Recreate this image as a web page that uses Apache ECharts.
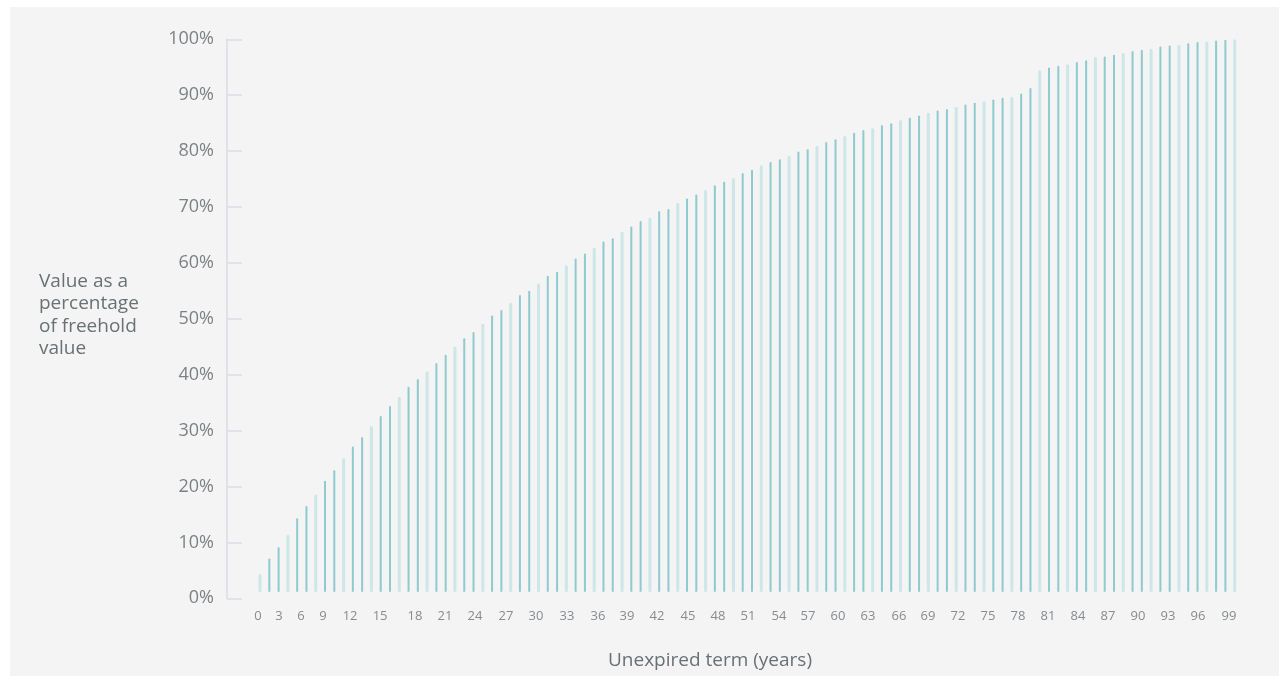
<!DOCTYPE html>
<html><head><meta charset="utf-8">
<script src="https://cdn.jsdelivr.net/npm/echarts@6/dist/echarts.min.js"></script>
<style>
html,body{margin:0;padding:0;background:#ffffff;width:1279px;height:676px;overflow:hidden}
#chart{position:absolute;left:10px;top:7px;width:1269px;height:669px;background:#f4f4f4}
</style></head><body><div id="chart"></div>
<script>
// Bar values (% of freehold value), one per bar, left to right
const values = [
  3.2, 6.0, 8.1, 10.3, 13.3, 15.5, 17.6, 20.1, 22.0, 24.2,
  26.3, 28.0, 30.0, 31.8, 33.6, 35.3, 37.1, 38.5, 39.9, 41.4,
  42.9, 44.4, 45.9, 47.0, 48.5, 50.0, 51.0, 52.3, 53.7, 54.5,
  55.8, 57.2, 57.9, 59.1, 60.3, 61.2, 62.3, 63.4, 64.0, 65.2,
  66.1, 67.1, 67.7, 68.9, 69.3, 70.4, 71.2, 71.9, 72.7, 73.6,
  74.2, 74.9, 75.8, 76.4, 77.2, 77.8, 78.3, 78.9, 79.7, 80.1,
  80.7, 81.4, 81.9, 82.5, 83.1, 83.6, 83.9, 84.5, 84.8, 85.4,
  85.8, 86.2, 86.7, 87.1, 87.4, 87.8, 88.2, 88.5, 88.8, 89.1,
  89.4, 89.6, 90.2, 91.2, 94.4, 94.9, 95.2, 95.5, 95.9, 96.2,
  96.8, 96.9, 97.2, 97.5, 97.9, 98.1, 98.3, 98.7, 98.9, 99.0,
  99.3, 99.5, 99.6, 99.8, 99.9, 100
];
const categories = values.map((v, i) => String(i));
// X tick labels and where they sit along the bar row (in bar-index units)
const tickLabels = ['0','3','6','9','12','15','18','21','24','27','30','33','36','39','42','45','48',
  '51','54','57','60','63','66','69','72','75','78','81','84','87','90','93','96','99'];
const tickPositions = [-0.22, 2.05, 4.42, 6.79, 9.70, 12.93, 16.70, 19.93, 23.16, 26.50, 29.73, 33.07,
  36.41, 39.54, 42.77, 46.11, 49.34, 52.57, 55.91, 59.03, 62.27, 65.50, 68.84, 71.96, 75.19, 78.42,
  81.65, 84.89, 88.12, 91.35, 94.58, 97.81, 101.05, 104.39];
const yTitle = 'Value as a\npercentage\nof freehold\nvalue';
const xTitle = 'Unexpired term (years)';

const lightData = values.map((v, i) => i % 3 === 0 ? v : '-');
const darkData = values.map((v, i) => i % 3 === 0 ? '-' : v);
const FONT = '"Open Sans", sans-serif';
const axisColor = '#dddae6';

const chart = echarts.init(document.getElementById('chart'), null, {renderer: 'canvas'});
chart.setOption({
  animation: false,
  backgroundColor: '#f4f4f4',
  title: [
    {text: yTitle, left: 29, top: 263.5, padding: 0,
     textStyle: {fontFamily: FONT, fontSize: 19, lineHeight: 22.3, fontWeight: 'normal', color: '#687175'}},
    {text: xTitle, left: 700, top: 641.7, padding: 0, textAlign: 'center',
     textStyle: {fontFamily: FONT, fontSize: 19, lineHeight: 24, fontWeight: 'normal', color: '#687175'}}
  ],
  grid: {left: 245.4, right: 39.7, top: 32.3, bottom: 77.7},
  xAxis: [
    {type: 'category', data: categories, show: false},
    {type: 'category', data: categories, show: false},
    {type: 'value', min: -0.5, max: 105.5, position: 'bottom',
     axisLine: {show: false, onZero: false}, axisTick: {show: false}, splitLine: {show: false},
     axisLabel: {
       customValues: tickPositions,
       margin: 11, fontSize: 13, color: '#868c90', fontFamily: FONT,
       formatter: function (v) {
         let best = 0, d = Infinity;
         tickPositions.forEach((p, i) => { const dd = Math.abs(p - v); if (dd < d) { d = dd; best = i; } });
         return tickLabels[best];
       }
     }}
  ],
  yAxis: [
    {type: 'value', min: 0, max: 100, interval: 10, position: 'left', offset: 28.4,
     axisLine: {show: true, onZero: false, lineStyle: {color: axisColor, width: 1.5}},
     axisTick: {show: true, inside: true, length: 15, lineStyle: {color: axisColor, width: 1.5}},
     splitLine: {show: false},
     axisLabel: {formatter: '{value}%', fontSize: 18, color: '#7b8286', margin: 13, fontFamily: FONT}},
    {type: 'value', min: -1.2, max: 100, show: false}
  ],
  series: [
    {type: 'bar', name: 'light', xAxisIndex: 0, yAxisIndex: 1, data: lightData, barWidth: 3,
     itemStyle: {color: '#cde6e8', borderRadius: [1.5, 1.5, 0, 0]}},
    {type: 'bar', name: 'dark', xAxisIndex: 1, yAxisIndex: 1, data: darkData, barWidth: 2,
     itemStyle: {color: '#8ecacf', borderRadius: [1, 1, 0, 0]}}
  ]
});
</script></body></html>
